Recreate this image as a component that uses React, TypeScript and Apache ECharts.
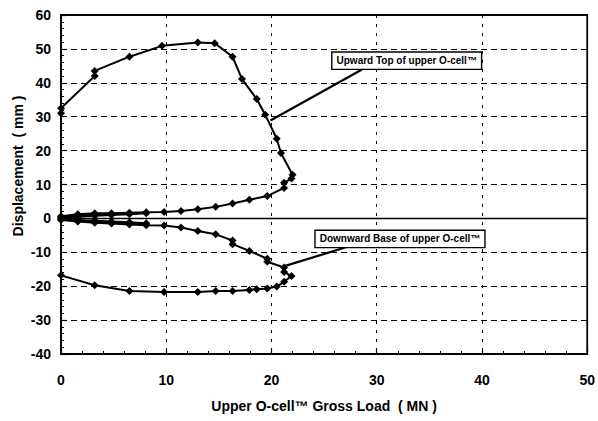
import React, { useEffect, useRef } from "react";
import * as echarts from "echarts";

// Upward: Top of upper O-cell
const upLoad = [0, 1.6, 3.2, 4.8, 6.5, 8.1, 4.8, 1.6, 0, 1.6, 3.2, 4.8, 6.5, 8.1, 9.8, 11.4, 13.0, 14.7, 16.3, 17.9, 19.6, 21.2, 21.2, 21.9, 22.0, 20.9, 20.5, 19.4, 18.6, 17.2, 16.3, 14.6, 13.0, 9.6, 6.5, 3.2, 3.2, 0, 0];
const upDisp = [0.2, 0.5, 0.8, 1.0, 1.2, 1.5, 1.2, 0.9, 0.6, 1.2, 1.5, 1.5, 1.7, 1.8, 1.9, 2.2, 2.7, 3.4, 4.4, 5.5, 6.6, 9.0, 10.5, 11.8, 12.9, 19.3, 23.5, 30.6, 35.2, 41.1, 47.7, 51.7, 51.9, 50.9, 47.7, 43.5, 42.0, 32.5, 31.0];

// Downward: Base of upper O-cell
const downLoad = [0, 1.6, 3.2, 4.8, 6.5, 8.1, 4.8, 1.6, 0, 1.6, 3.2, 4.8, 6.5, 8.1, 9.8, 11.4, 13.0, 14.7, 16.3, 16.3, 17.9, 19.6, 19.6, 21.2, 21.2, 21.9, 21.2, 20.5, 19.6, 18.6, 17.9, 16.3, 14.7, 13.0, 9.8, 6.5, 3.2, 0];
const downDisp = [-0.2, -0.5, -0.7, -0.9, -1.1, -1.4, -1.1, -0.7, -0.5, -0.9, -1.3, -1.5, -1.8, -2.0, -2.1, -2.7, -3.7, -4.7, -6.5, -7.6, -9.6, -11.9, -12.8, -14.5, -15.8, -17.0, -18.7, -20.1, -20.7, -20.9, -21.1, -21.4, -21.4, -21.7, -21.7, -21.4, -19.7, -16.8];

// Annotations (data coordinates)
const upNote = "Upward Top of upper O-cell™";
const upNoteAt = [25.8, 48.9];
const upArrow = [[28.6, 43.9], [19.9, 28.9]];
const downNote = "Downward Base of upper O-cell™";
const downNoteAt = [24.2, -3.7];
const downArrow = [[27.0, -8.6], [21.3, -14.0]];

const xTitle = "Upper O-cell™ Gross Load  ( MN )";
const yTitle = "Displacement  ( mm )";

const FONT = "'Liberation Sans', Arial, sans-serif";

const zip = (a: number[], b: number[]) => a.map((v, i) => [v, b[i]]);

export default function App() {
  const ref = useRef<HTMLDivElement>(null);
  useEffect(() => {
    if (!ref.current) return;
    const chart = echarts.init(ref.current, undefined, { renderer: "svg" });
    const seriesStyle = {
      type: "line" as const,
      symbol: "diamond",
      symbolSize: 8,
      lineStyle: { color: "#000", width: 2 },
      itemStyle: { color: "#000" },
      silent: true,
    };
    chart.setOption({
      animation: false,
      backgroundColor: "#fff",
      grid: {
        left: 61,
        right: 10,
        top: 15,
        bottom: 67,
        show: true,
        borderColor: "#000",
        borderWidth: 1.8,
        backgroundColor: "transparent",
      },
      xAxis: {
        type: "value",
        min: 0,
        max: 50,
        interval: 10,
        name: xTitle,
        nameLocation: "middle",
        nameGap: 45,
        nameTextStyle: { fontFamily: FONT, fontWeight: "bold", fontSize: 14, color: "#000" },
        axisLine: { onZero: false, lineStyle: { color: "#000", width: 1.8 } },
        axisTick: { inside: true, length: 5, lineStyle: { color: "#000", width: 1.2 } },
        minorTick: { show: true, splitNumber: 5, length: 3, lineStyle: { color: "#000" } },
        axisLabel: { fontFamily: FONT, fontWeight: "bold", fontSize: 14, color: "#000", margin: 19 },
        splitLine: { show: true, lineStyle: { color: "#000", type: [3, 6], width: 1 } },
      },
      yAxis: {
        type: "value",
        min: -40,
        max: 60,
        interval: 10,
        axisLine: { onZero: false, lineStyle: { color: "#000", width: 1.8 } },
        axisTick: { inside: true, length: 5, lineStyle: { color: "#000", width: 1.2 } },
        minorTick: { show: true, splitNumber: 5, length: 3, lineStyle: { color: "#000" } },
        axisLabel: { fontFamily: FONT, fontWeight: "bold", fontSize: 14, color: "#000", margin: 10 },
        splitLine: { show: true, lineStyle: { color: "#000", type: [6, 4], width: 1.2 } },
      },
      series: [
        {
          ...seriesStyle,
          name: "Upward",
          data: zip(upLoad, upDisp),
          markLine: {
            silent: true,
            symbol: "none",
            label: { show: false },
            lineStyle: { color: "#000", type: "solid", width: 1.4 },
            data: [{ yAxis: 0 }],
          },
        },
        { ...seriesStyle, name: "Downward", data: zip(downLoad, downDisp) },
      ],
    });

    const px = (p: number[]) => chart.convertToPixel({ gridIndex: 0 }, p) as number[];
    const note = (text: string, at: number[]) => {
      const p = px(at);
      return {
        type: "text",
        x: p[0],
        y: p[1],
        z: 10,
        style: {
          text,
          fill: "#000",
          font: `bold 10px ${FONT}`,
          backgroundColor: "#fff",
          borderColor: "#000",
          borderWidth: 1.4,
          padding: [3, 4, 3, 4],
        },
      };
    };
    const arrow = (seg: number[][]) => {
      const a = px(seg[0]);
      const b = px(seg[1]);
      return {
        type: "line",
        z: 9,
        shape: { x1: a[0], y1: a[1], x2: b[0], y2: b[1] },
        style: { stroke: "#000", lineWidth: 2.2 },
      };
    };
    chart.setOption({
      graphic: [
        arrow(upArrow),
        arrow(downArrow),
        note(upNote, upNoteAt),
        note(downNote, downNoteAt),
        {
          type: "text",
          x: 18,
          y: 166,
          rotation: Math.PI / 2,
          style: {
            text: yTitle,
            fill: "#000",
            font: `bold 14px ${FONT}`,
            align: "center",
            verticalAlign: "middle",
          },
        },
      ],
    });
    return () => chart.dispose();
  }, []);
  return (
    <div
      ref={ref}
      style={{ position: "absolute", left: 0, top: 0, width: 598, height: 421, background: "#fff" }}
    />
  );
}
